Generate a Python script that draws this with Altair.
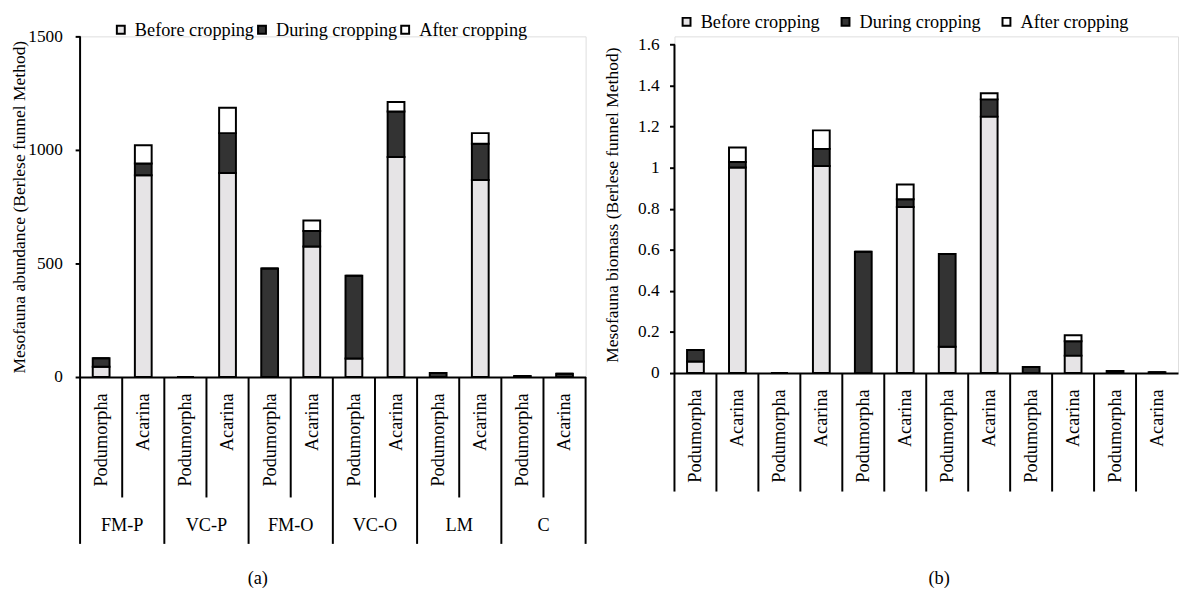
import altair as alt
import pandas as pd

groups = ["FM-P", "VC-P", "FM-O", "VC-O", "LM", "C"]
taxa = ["Podumorpha", "Acarina"]
stages = ["Before cropping", "During cropping", "After cropping"]

# (a) Mesofauna abundance
abundance_before = [45, 888, 0, 898, 0, 575, 82, 969, 0, 868, 0, 0]
abundance_during = [38, 52, 0, 176, 478, 68, 364, 200, 18, 159, 4, 14]
abundance_after = [0, 81, 0, 112, 0, 46, 0, 42, 0, 47, 0, 0]
abundance_ticks = [0, 500, 1000, 1500]

# (b) Mesofauna biomass
biomass_before = [0.056, 1.001, 0, 1.009, 0, 0.809, 0.128, 1.249, 0, 0.085, 0, 0]
biomass_during = [0.056, 0.027, 0, 0.083, 0.591, 0.038, 0.452, 0.084, 0.029, 0.070, 0.010, 0.004]
biomass_after = [0, 0.071, 0, 0.090, 0, 0.071, 0, 0.030, 0, 0.029, 0, 0]
biomass_ticks = [0, 0.2, 0.4, 0.6, 0.8, 1.0, 1.2, 1.4, 1.6]

FONT = "Liberation Serif"
FS = 18.5
COLORS = ["#e6e4e6", "#333333", "#ffffff"]

cats = [f"{g}|{t}" for g in groups for t in taxa]


def long_df(before, during, after):
    rows = []
    for i, c in enumerate(cats):
        g, t = c.split("|")
        for k, (s, vals) in enumerate(zip(stages, [before, during, after])):
            rows.append({"cat": c, "group": g, "taxon": t, "stage": s, "k": k, "value": vals[i]})
    return pd.DataFrame(rows)


cat_df = pd.DataFrame({
    "cat": cats,
    "group": [c.split("|")[0] for c in cats],
    "taxon": [c.split("|")[1] for c in cats],
    "last": [i == len(cats) - 1 for i in range(len(cats))],
})


def panel(df, ytitle, ticks, ytop, ymax, fmt, W, H, inner_len, outer_len, show_groups,
          caption, cap_x, cap_y, leg_x, leg_y, leg_gap, title_pad, label_pad, right_end):
    xscale = alt.Scale(domain=cats, paddingInner=0, paddingOuter=0)
    xaxis = alt.Axis(title=None, labelAngle=-90, labelAlign="right", labelBaseline="middle",
                     labelExpr="split(datum.value, '|')[1]", ticks=False,
                     labelPadding=16, domainColor="black", domainWidth=2,
                     labelFont=FONT, labelFontSize=FS, labelColor="black", grid=False)
    yscale = alt.Scale(domain=[0, ymax], nice=False, zero=True)

    def xenc(bp=None):
        if bp is None:
            return alt.X("cat:N", scale=xscale, sort=cats, axis=xaxis)
        return alt.X("cat:N", scale=xscale, sort=cats, axis=xaxis, bandPosition=bp)

    bars = alt.Chart(df).mark_bar(size=17, stroke="black", strokeWidth=2).encode(
        x=xenc(),
        y=alt.Y("value:Q", stack="zero", scale=yscale,
                axis=alt.Axis(title=ytitle, values=ticks, format=fmt, grid=False,
                              domain=False, tickColor="black",
                              tickWidth=2, tickSize=5, labelPadding=label_pad,
                              labelFont=FONT, labelFontSize=17.5, labelColor="black",
                              titleFont=FONT, titleFontSize=17.7, titleFontWeight="normal",
                              titleColor="black", titlePadding=title_pad)),
        color=alt.Color("stage:N", scale=alt.Scale(domain=stages, range=COLORS),
                        legend=alt.Legend(title=None, orient="none", legendX=leg_x, legendY=leg_y,
                                          direction="horizontal", symbolType="square",
                                          symbolSize=64, symbolStrokeColor="black",
                                          symbolStrokeWidth=2, labelFont=FONT,
                                          labelFontSize=FS, labelColor="black",
                                          gridAlign="none",
                                          columnPadding=leg_gap, labelOffset=5, padding=0)),
        order=alt.Order("k:Q", sort="ascending"),
    )

    one = pd.DataFrame({"lo": [0], "hi": [ytop]})
    yline = alt.Chart(one).mark_rule(color="black", strokeWidth=2).encode(
        x=alt.value(0), y=alt.Y("lo:Q", scale=yscale), y2="hi:Q")

    base = alt.Chart(cat_df)
    inner = base.transform_filter("datum.taxon == 'Acarina'" if show_groups else "true").mark_rule(
        color="black", strokeWidth=2).encode(
        x=xenc(0), y=alt.value(H), y2=alt.value(H + inner_len))
    layers = [bars, yline, inner]
    if show_groups:
        outer = base.transform_filter("datum.taxon == 'Podumorpha'").mark_rule(
            color="black", strokeWidth=2).encode(
            x=xenc(0), y=alt.value(H), y2=alt.value(H + outer_len))
        glabels = base.transform_filter("datum.taxon == 'Podumorpha'").mark_text(
            font=FONT, fontSize=FS, color="black", baseline="middle", align="center").encode(
            x=xenc(1), y=alt.value(H + 150), text="group:N")
        layers += [outer, glabels]
    if right_end:
        rend = base.transform_filter("datum.last").mark_rule(color="black", strokeWidth=2).encode(
            x=xenc(1), y=alt.value(H), y2=alt.value(H + outer_len))
        layers.append(rend)
    cap = alt.Chart(pd.DataFrame({"t": [caption]})).mark_text(
        font=FONT, fontSize=FS, color="black", baseline="middle", align="center").encode(
        x=alt.value(cap_x), y=alt.value(cap_y), text="t:N")
    layers.append(cap)
    return alt.layer(*layers).properties(width=W, height=H)


pa = panel(long_df(abundance_before, abundance_during, abundance_after),
           "Mesofauna abundance (Berlese funnel Method)", abundance_ticks, 1500, 1500, "d",
           512, 345, 122, 169, True, "(a)", 180, 549, 32, -16, -2, -1, 13, True)
pb = panel(long_df(biomass_before, biomass_during, biomass_after),
           "Mesofauna biomass (Berlese funnel Method)", biomass_ticks, 1.6, 1.6 * 341.3 / 333, ".1~f",
           510, 341, 120, 120, False, "(b)", 268, 549, 3, -24, 16, 16, 10.5, False)

chart = alt.hconcat(pa, pb, spacing=16).resolve_scale(color="independent").resolve_legend(
    color="independent").properties(padding={"left": 2, "top": 0, "right": 0, "bottom": 0}).configure_view(
    stroke=None).configure(background="white")

chart.save("out.html", embed_options={"renderer": "svg", "actions": False})
